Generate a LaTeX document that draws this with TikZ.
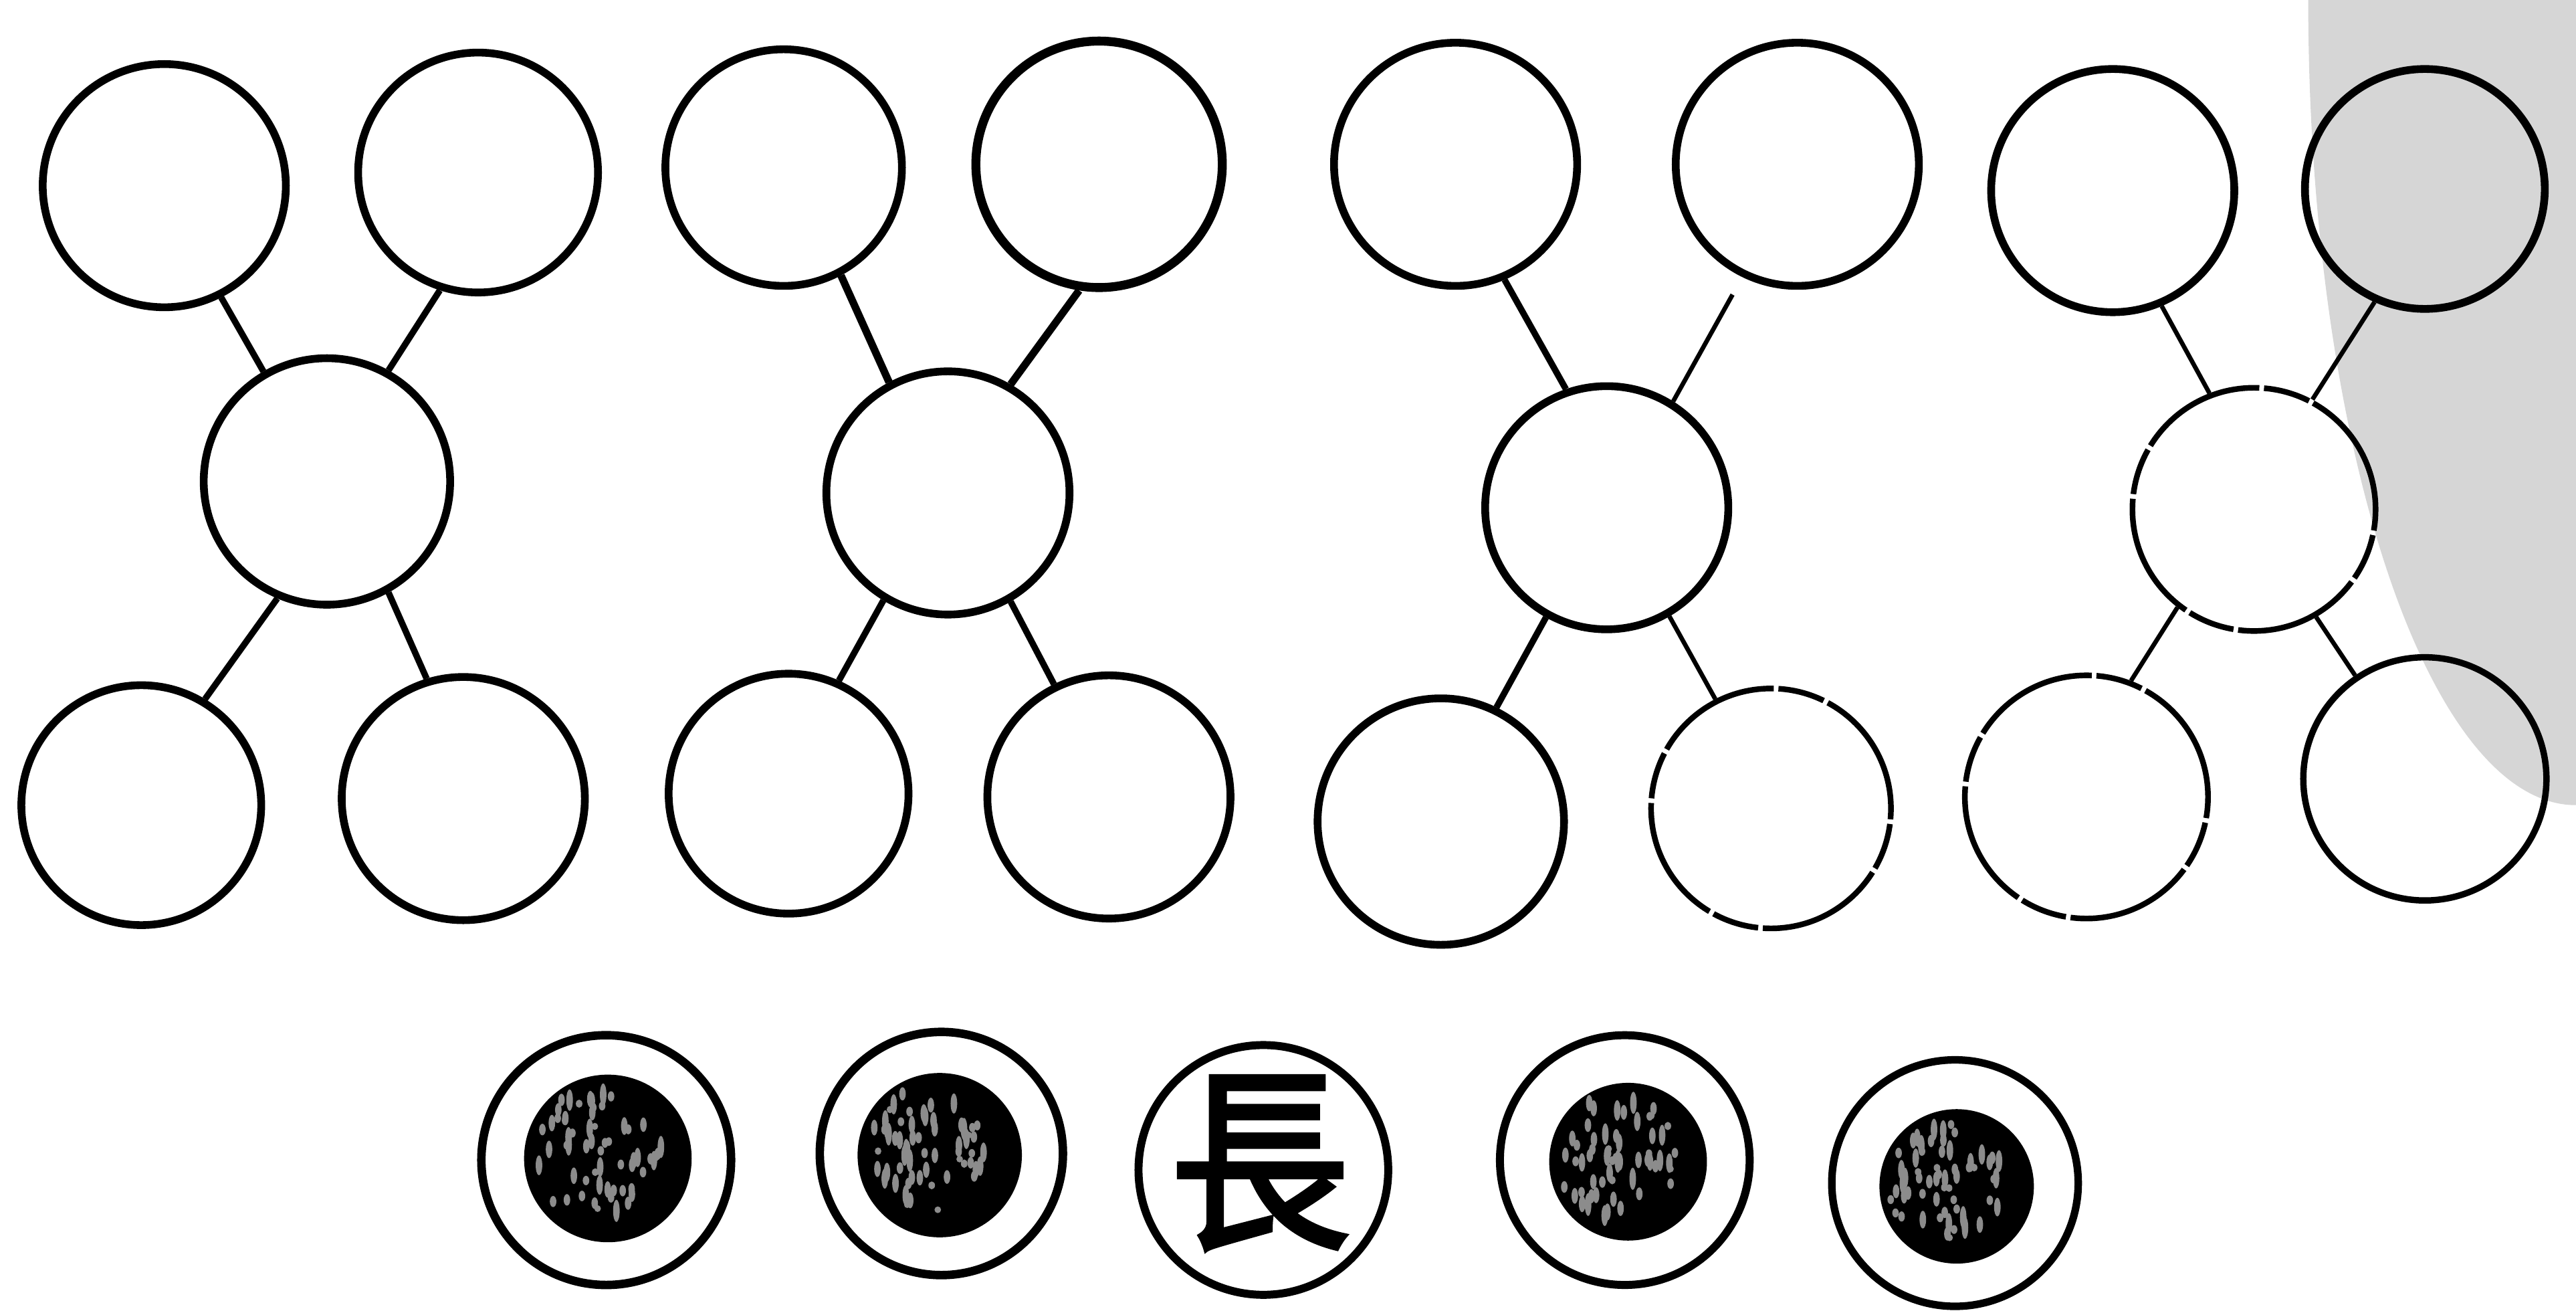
\documentclass[tikz,border=0pt]{standalone}
\usepackage{fontspec}
\newfontfamily\cjk[FakeBold=2.2]{Noto Sans CJK TC}
\usetikzlibrary{calc}
\begin{document}
\begin{tikzpicture}[x=0.024566cm, y=-0.024566cm,
  ring/.style={circle, draw, line width=3.3pt, inner sep=0pt, minimum size=2*#1*0.024566cm},
  ring/.default=74,
  thin ring/.style={ring=#1, line width=2.4pt, dash pattern=on 55pt off 2pt on 20pt off 2pt},
  thin ring/.default=74,
  conn/.style={line width=2.7pt},
  thin conn/.style={line width=1.9pt},
  core/.style={circle, fill=black, inner sep=0pt, minimum size=2*#1*0.024566cm},
  core/.default=50,
  speck/.style={fill=black!45}]
\useasboundingbox (0,0) rectangle (1568,799);
% grey shadow of the scan
\fill[black!16] (1405,0) arc[start angle=180, end angle=90, x radius=163, y radius=490] -- (1568,0) -- cycle;

% group 1
\node[ring=74] (g1tl) at (100,113) {};
\node[ring=73] (g1tr) at (291,105) {};
\node[ring=75] (g1c)  at (199,293) {};
\node[ring=73] (g1bl) at (86,490) {};
\node[ring=74] (g1br) at (282,486) {};
\draw[conn] (g1tl.-63) -- (g1c.120);
\draw[conn] (g1tr.-108) -- (g1c.61);
\draw[conn] (g1c.-113) -- (g1bl.59);
\draw[conn] (g1c.-61) -- (g1br.107);

% group 2
\node[ring=72] (g2tl) at (477,102) {};
\node[ring=75, line width=3.8pt] (g2tr) at (669,100) {};
\node[ring=74] (g2c)  at (577,300) {};
\node[ring=73] (g2bl) at (480,483) {};
\node[ring=74] (g2br) at (675,485) {};
\draw[conn, line width=3.2pt] (g2tl.-62) -- (g2c.118);
\draw[conn, line width=3.2pt] (g2tr.-99) -- (g2c.60);
\draw[conn] (g2c.-121) -- (g2bl.66);
\draw[conn] (g2c.-60) -- (g2br.116);

% group 3
\node[ring=74] (g3tl) at (886,100) {};
\node[ring=74] (g3tr) at (1094,100) {};
\node[ring=74] (g3c)  at (978,309) {};
\node[ring=75] (g3bl) at (877,500) {};
\node[thin ring=73] (g3br) at (1078,492) {};
\draw[conn] (g3tl.-67) -- (g3c.109);
\draw[thin conn, shorten <=0.3cm] (g3tr.-116) -- (g3c.58);
\draw[conn] (g3c.-119) -- (g3bl.64);
\draw[thin conn] (g3c.-60) -- (g3br.117);

% group 4
\node[ring=74] (g4tl) at (1286,116) {};
\node[ring=73] (g4tr) at (1476,115) {};
\node[thin ring=74] (g4c)  at (1372,310) {};
\node[thin ring=74] (g4bl) at (1270,485) {};
\node[ring=74, line width=2.7pt] (g4br) at (1476,474) {};
\draw[thin conn] (g4tl.-67) -- (g4c.111);
\draw[thin conn] (g4tr.-114) -- (g4c.62);
\draw[thin conn] (g4c.-128) -- (g4bl.69);
\draw[thin conn] (g4c.-60) -- (g4br.124);

% bottom row
\pgfmathsetseed{11}
\node[core=51] (d1) at (370,705) {};
\node[core=50] (d2) at (572,703) {};
\node[core=48] (d4) at (991,707) {};
\node[core=47] (d5) at (1191,722) {};
\foreach \d/\rr in {d1/40,d2/39,d4/37,d5/36}{
  \foreach \k in {1,...,60}{
    \pgfmathsetmacro\ang{rnd*360}
    \pgfmathsetmacro\rad{sqrt(rnd)*\rr}
    \pgfmathsetmacro\len{2+rnd*5}
    \fill[speck] ($(\d)+(-7,-3)+(\ang:\rad)$) circle[x radius=2, y radius=\len];
  }
}
\node[ring=76, line width=3.6pt] (r1) at (369,706) {};
\node[ring=74, line width=3.6pt] (r2) at (573,702) {};
\node[ring=76, line width=3.4pt] (r3) at (769,712) {};
\node[font=\cjk\fontsize{84}{84}\selectfont, inner sep=0pt, xscale=0.92] (t3) at (767,708) {長};
\node[ring=76, line width=3.4pt] (r4) at (989,706) {};
\node[ring=75, line width=3.2pt] (r5) at (1190,720) {};
\end{tikzpicture}
\end{document}
